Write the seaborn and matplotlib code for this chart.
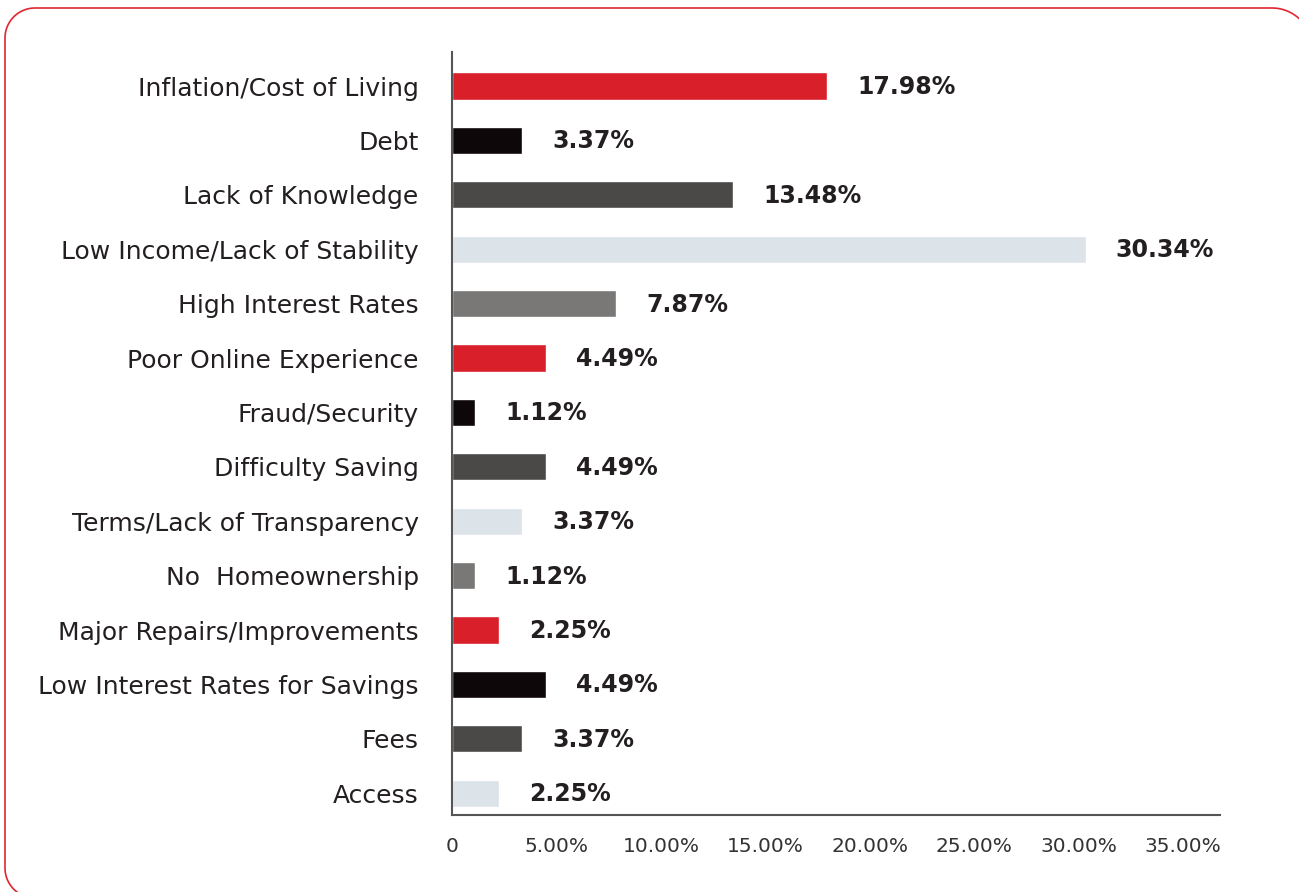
import matplotlib
matplotlib.use("Agg")
import numpy as np
import matplotlib.pyplot as plt
from matplotlib.lines import Line2D
from matplotlib.transforms import IdentityTransform
from matplotlib.ticker import FuncFormatter
import seaborn as sns
import pandas as pd

# Survey responses: biggest barriers to financial wellbeing (share of respondents, %)
categories = [
    "Inflation/Cost of Living",
    "Debt",
    "Lack of Knowledge",
    "Low Income/Lack of Stability",
    "High Interest Rates",
    "Poor Online Experience",
    "Fraud/Security",
    "Difficulty Saving",
    "Terms/Lack of Transparency",
    "No  Homeownership",
    "Major Repairs/Improvements",
    "Low Interest Rates for Savings",
    "Fees",
    "Access",
]
values = [17.98, 3.37, 13.48, 30.34, 7.87, 4.49, 1.12, 4.49, 3.37, 1.12, 2.25, 4.49, 3.37, 2.25]
x_ticks = [0, 5, 10, 15, 20, 25, 30, 35]

# Five-colour brand cycle repeated down the list
cycle = ["#D9202A", "#0E0709", "#4B4947", "#DCE3E9", "#7A7876"]
palette = {c: cycle[i % len(cycle)] for i, c in enumerate(categories)}

df = pd.DataFrame({"category": categories, "value": values})

sns.set_theme(style="white")
plt.rcParams["font.family"] = ["DejaVu Sans"]
text_color = "#231F20"

W, H = 1299, 892
fig = plt.figure(figsize=(W / 100, H / 100), dpi=100)
ax = fig.add_axes([0.348, 0.0863, 0.591, 0.8554])

sns.barplot(data=df, y="category", x="value", hue="category", palette=palette,
            order=categories, hue_order=categories, orient="h",
            width=0.5, saturation=1, legend=False, ax=ax)

ax.set_xlim(0, 36.77)
ax.set_ylim(13.4, -0.625)
ax.set_xticks(x_ticks)
ax.xaxis.set_major_formatter(FuncFormatter(lambda v, _: "0" if v == 0 else f"{v:.2f}%"))
ax.set_xlabel("")
ax.set_ylabel("")

for side in ("top", "right"):
    ax.spines[side].set_visible(False)
for side in ("left", "bottom"):
    ax.spines[side].set_color("#555555")
    ax.spines[side].set_linewidth(1.5)

ax.tick_params(axis="y", length=0, pad=24, labelsize=18, labelcolor=text_color)
ax.tick_params(axis="x", length=0, pad=16, labelsize=14.5, labelcolor="#333333")

# Value labels to the right of each bar
for i, v in enumerate(values):
    ax.annotate(f"{v:.2f}%", xy=(v, i), xytext=(30, -1), textcoords="offset pixels",
                va="center", ha="left", fontsize=17, fontweight="bold",
                color=text_color)

# Rounded red frame around the panel (pixel coordinates, y measured from the top);
# its right and bottom sides run just past the edge of the canvas
left, top, right, bottom = 5, 8, 1312, 898
radius = 30
r_tr = 40


def corner(cx, cy, r, a0, a1, n=30):
    t = np.linspace(np.radians(a0), np.radians(a1), n)
    return cx + r * np.cos(t), cy - r * np.sin(t)


xs, ys = [], []
for seg in (
    corner(left + radius, bottom - radius, radius, 270, 180),
    corner(left + radius, top + radius, radius, 180, 90),
    corner(right - r_tr, top + r_tr, r_tr, 90, 0),
):
    xs.extend(seg[0])
    ys.extend(seg[1])

frame = Line2D(xs, [H - y for y in ys], transform=IdentityTransform(),
               color="#E0262F", linewidth=1.2, solid_joinstyle="round")
fig.lines.append(frame)

fig.savefig("out.png", dpi=100, facecolor="white")
